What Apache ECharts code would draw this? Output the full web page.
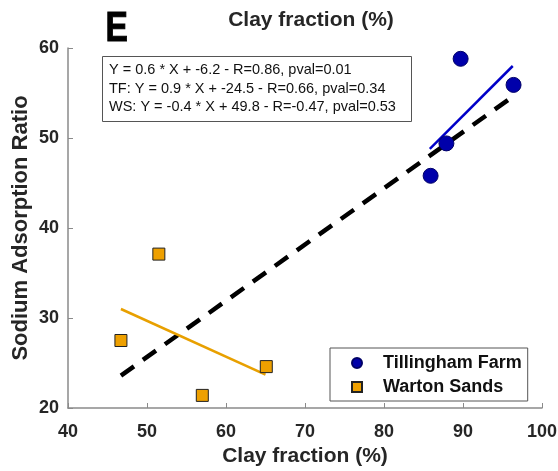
<!DOCTYPE html>
<html>
<head>
<meta charset="utf-8">
<script src="https://cdn.jsdelivr.net/npm/echarts@6/dist/echarts.min.js"></script>
<style>
html, body { margin: 0; padding: 0; background: #fff; }
#chart { width: 558px; height: 471px; }
</style>
</head>
<body>
<div id="chart"></div>
<script>
// scatter points (clay %, SAR)
const tillingham = [[89.7, 58.8], [96.4, 55.9], [87.9, 49.4], [85.9, 45.8]];
const warton = [[46.7, 27.5], [51.5, 37.1], [57.0, 21.4], [65.1, 24.6]];
// fitted lines
const fitAll = [[46.7, 23.6], [96.3, 54.6]];
const fitTF = [[85.8, 48.8], [96.3, 58.0]];
const fitWS = [[46.7, 31.0], [65.0, 23.7]];
const statsText = [
    'Y = 0.6 * X + -6.2 - R=0.86, pval=0.01',
    'TF: Y = 0.9 * X + -24.5 - R=0.66, pval=0.34',
    'WS: Y = -0.4 * X + 49.8 - R=-0.47, pval=0.53'
];

const font = 'Liberation Sans, Arial, Helvetica, sans-serif';
const dark = '#262626';

const chart = echarts.init(document.getElementById('chart'));
chart.setOption({
    animation: false,
    textStyle: {fontFamily: font},
    title: [
        {
            text: 'Clay fraction (%)',
            left: 306, top: 5, textAlign: 'center',
            textStyle: {fontSize: 21, fontWeight: 'bold', color: dark}
        },
        {
            text: statsText.join('\n'),
            left: 102, top: 56,
            padding: [5, 16, 5, 7],
            borderColor: '#555', borderWidth: 1,
            backgroundColor: '#fff',
            textStyle: {fontSize: 14.5, fontWeight: 'normal', color: '#111', lineHeight: 18.5}
        }
    ],
    graphic: [{
        type: 'text', left: 105, top: 8,
        scaleX: 0.8,
        style: {text: 'E', fontSize: 42, fontWeight: 900, fill: '#000', fontFamily: font,
                stroke: '#000', lineWidth: 1}
    }],
    legend: {
        data: ['Tillingham Farm', 'Warton Sands'],
        orient: 'vertical',
        left: 330, top: 348,
        padding: [6, 6, 5, 21],
        itemGap: 6,
        itemWidth: 10, itemHeight: 10,
        borderColor: '#555', borderWidth: 1,
        backgroundColor: '#fff',
        textStyle: {fontSize: 18, fontWeight: 'bold', color: '#111', padding: [0, 0, 0, 16]}
    },
    grid: {left: 68, right: 16, top: 48, bottom: 63, outerBoundsMode: 'none'},
    xAxis: {
        type: 'value', min: 40, max: 100, interval: 10,
        name: 'Clay fraction (%)', nameLocation: 'middle', nameGap: 38,
        nameTextStyle: {fontSize: 21, fontWeight: 'bold', color: dark},
        axisLine: {lineStyle: {color: '#8a8a8a', width: 1.5}},
        axisTick: {inside: true, length: 5, lineStyle: {color: '#8a8a8a'}},
        axisLabel: {fontSize: 18, fontWeight: 'bold', color: dark, margin: 15},
        splitLine: {show: false}
    },
    yAxis: {
        type: 'value', min: 20, max: 60, interval: 10,
        name: 'Sodium Adsorption Ratio', nameLocation: 'middle', nameGap: 36,
        nameMoveOverlap: false,
        nameTextStyle: {fontSize: 22, fontWeight: 'bold', color: dark},
        axisLine: {show: true, lineStyle: {color: '#8a8a8a', width: 1.5}},
        axisTick: {show: true, inside: true, length: 5, lineStyle: {color: '#8a8a8a'}},
        axisLabel: {fontSize: 18, fontWeight: 'bold', color: dark, margin: 9},
        splitLine: {show: false}
    },
    series: [
        {
            name: 'all', type: 'line', data: fitAll, symbol: 'none', z: 2,
            lineStyle: {color: '#000', width: 4.5, type: [16, 11]}
        },
        {
            name: 'TF fit', type: 'line', data: fitTF, symbol: 'none', z: 3,
            lineStyle: {color: '#0000c8', width: 2.5}
        },
        {
            name: 'WS fit', type: 'line', data: fitWS, symbol: 'none', z: 3,
            lineStyle: {color: '#e8a000', width: 2.5}
        },
        {
            name: 'Tillingham Farm', type: 'scatter', data: tillingham, z: 4,
            symbol: 'circle', symbolSize: 15,
            itemStyle: {color: '#0000aa', borderColor: '#000066', borderWidth: 1, opacity: 1}
        },
        {
            name: 'Warton Sands', type: 'scatter', data: warton, z: 4,
            symbol: 'rect', symbolSize: 12,
            itemStyle: {color: '#eea000', borderColor: '#222', borderWidth: 1, opacity: 1}
        }
    ]
});
</script>
</body>
</html>
